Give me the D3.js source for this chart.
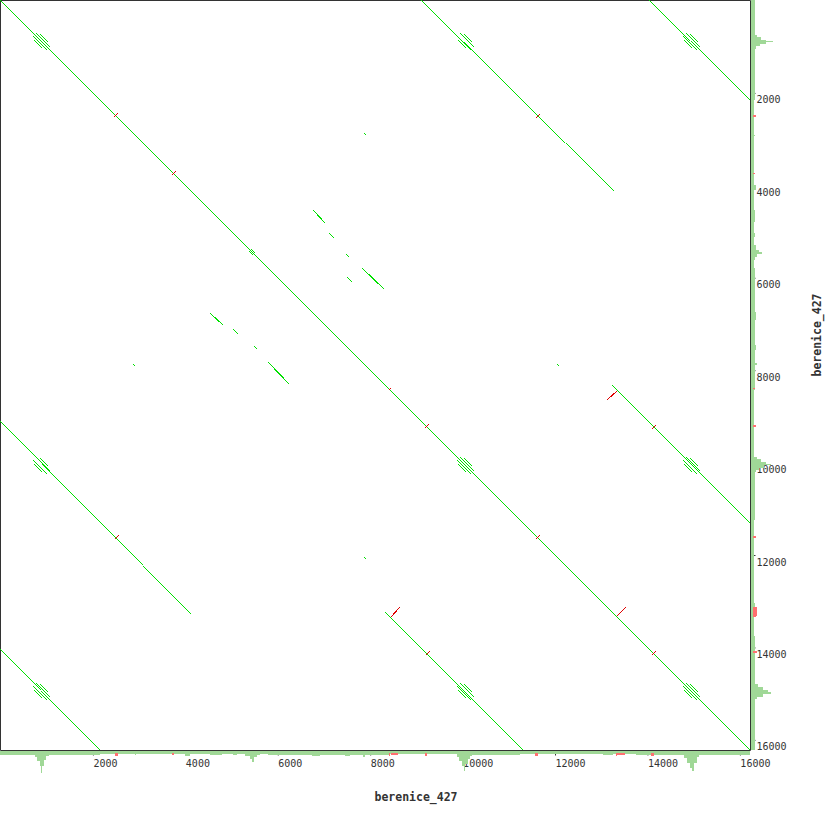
<!DOCTYPE html>
<html>
<head>
<meta charset="utf-8">
<script src="https://cdn.jsdelivr.net/npm/d3@7"></script>
<style>
  body { margin: 0; background: #fff; }
  .tick text { font-family: "DejaVu Sans Mono", monospace; font-size: 10px; fill: #333; }
  .axis path, .axis line { stroke: #333; }
  .title { font-family: "DejaVu Sans Mono", monospace; font-size: 11.5px; font-weight: bold; fill: #333; }
</style>
</head>
<body>
<svg width="830" height="830"></svg>
<script>
// sequence on both axes
const seqName = "berenice_427";
const seqLength = 16230;
const tickValues = [2000, 4000, 6000, 8000, 10000, 12000, 14000, 16000];

// forward matches [x1, y1, x2, y2]
const fwdSegments = [
  [0, 0, 16230, 16230],
  // duplicated block, broken at small indels
  [9110, 0, 10019, 909], [10041, 909, 12227, 3094], [12248, 3094, 13287, 4133],
  [0, 9110, 909, 10019], [909, 10041, 3094, 12227], [3094, 12248, 4133, 13287],
  [14044, 0, 14932, 887], [14953, 887, 16230, 2164],
  [0, 14044, 887, 14932], [887, 14953, 2164, 16230],
  [8330, 13250, 11310, 16230],
  [13250, 8330, 16230, 11310],
  // short matches in the middle
  [6780, 4544, 7033, 4819],
  [7126, 5049, 7228, 5144],
  [7487, 5497, 7552, 5555],
  [7834, 5806, 8310, 6247],
  [7516, 6001, 7611, 6096],
  [4544, 6780, 4819, 7033],
  [5049, 7126, 5144, 7228],
  [5497, 7487, 5555, 7552],
  [5806, 7834, 6247, 8310],
  [7877, 2878, 7920, 2921],
  [2878, 7877, 2921, 7920],
  [12053, 7877, 12097, 7920],
  [7877, 12053, 7920, 12097]
];

// reverse matches [x1, y1, x2, y2]
const revSegments = [
  [2446, 2532, 2532, 2446],
  [3701, 3787, 3787, 3701],
  [8396, 8440, 8440, 8396],
  [9176, 9262, 9262, 9176],
  [11578, 11664, 11664, 11578],
  [11578, 2553, 11664, 2467],
  [2467, 11664, 2553, 11578],
  [13330, 13330, 13525, 13135],
  [8440, 13352, 8634, 13135],
  [13352, 8440, 13135, 8634],
  [14088, 14174, 14174, 14088],
  [9197, 14174, 9283, 14088],
  [14088, 9283, 14174, 9197]
];

// tandem repeat blocks: centres and the parallel lines seen in each block [x shift, y shift, half length]
const repeatCenters = [887, 10063, 14953];
const repeatLines = [[43, -22, 151], [-22, 43, 151], [65, -65, 87], [-65, 65, 87]];
const smallRepeat = [5453];
const smallRepeatLines = [[22, -22, 45], [-22, 22, 45]];

// coverage histogram [start, end, depth]
const coverage = [
  [0, 757, 4], [757, 801, 6], [801, 855, 10], [855, 887, 15], [887, 909, 22],
  [909, 952, 15], [952, 995, 9], [995, 1060, 5], [1060, 2164, 4], [2164, 2921, 3],
  [2921, 2943, 4], [2943, 4003, 3], [4003, 4112, 4.5], [4112, 4544, 3], [4544, 4804, 4],
  [4804, 5042, 3], [5042, 5129, 4], [5129, 5302, 3], [5302, 5410, 5], [5410, 5453, 8],
  [5453, 5497, 11], [5497, 5562, 6], [5562, 5626, 4], [5626, 5800, 3], [5800, 6752, 4],
  [6752, 6925, 4.5], [6925, 7466, 4], [7466, 7574, 5], [7574, 7855, 4], [7855, 7899, 5.5],
  [7899, 8440, 4], [8440, 9889, 3], [9889, 9933, 6], [9933, 9998, 10], [9998, 10041, 15],
  [10041, 10063, 20], [10063, 10128, 13], [10128, 10171, 8], [10171, 10214, 5], [10214, 11253, 4],
  [11253, 13049, 2.5], [13049, 13265, 4], [13265, 13763, 3], [13763, 14802, 4], [14802, 14867, 7],
  [14867, 14932, 12], [14932, 14975, 17], [14975, 15018, 20], [15018, 15083, 12], [15083, 15126, 6],
  [15126, 16230, 4]
];

// reverse-match coverage [start, end, depth]
const redCoverageX = [
  [2478, 2543, 3], [3722, 3776, 2], [8418, 8440, 3], [8461, 8613, 2], [9197, 9251, 3],
  [11588, 11642, 3], [13330, 13352, 3], [13352, 13525, 2], [14088, 14142, 3]
];
const redCoverageY = [
  [2478, 2532, 3], [3733, 3776, 2], [8396, 8418, 2], [9197, 9240, 3], [11599, 11642, 3],
  [13135, 13330, 4], [13330, 13352, 3], [14088, 14131, 4]
];

const svg = d3.select("svg");
const size = 750;

const x = d3.scaleLinear().domain([0, seqLength]).range([0, size]);
const y = d3.scaleLinear().domain([0, seqLength]).range([0, size]);
const depth = d3.scaleLinear().domain([0, 22]).range([0, 22]);

const g = svg.append("g").attr("transform", "translate(0.5,0.5)");

// frame top / left
g.append("line").attr("x1", 0).attr("y1", 0).attr("x2", size).attr("y2", 0).attr("stroke", "#333");
g.append("line").attr("x1", 0).attr("y1", 0).attr("x2", 0).attr("y2", size).attr("stroke", "#333");

// dots: repeat blocks
const repeatSegs = [];
repeatCenters.forEach(cx => repeatCenters.forEach(cy => {
  repeatLines.forEach(([dx, dy, h]) => repeatSegs.push([cx - h + dx, cy - h + dy, cx + h + dx, cy + h + dy]));
}));
smallRepeat.forEach(c => smallRepeatLines.forEach(([dx, dy, h]) =>
  repeatSegs.push([c - h + dx, c - h + dy, c + h + dx, c + h + dy])));

// snap to whole pixels so 45 degree lines stay one pixel wide
const px = v => Math.round(x(v));
const py = v => Math.round(y(v));

function drawSegs(data, colour) {
  g.append("g").selectAll("line")
    .data(data)
    .enter().append("line")
      .attr("x1", d => px(d[0])).attr("y1", d => py(d[1]))
      .attr("x2", d => px(d[2])).attr("y2", d => py(d[3]))
      .attr("stroke", colour)
      .attr("stroke-width", 1)
      .attr("shape-rendering", "crispEdges");
}
drawSegs(fwdSegments.concat(repeatSegs), "#00e000");
drawSegs(revSegments, "#e00000");

// histograms
const hist = svg.append("g");
hist.selectAll(".covx")
  .data(coverage)
  .enter().append("rect")
    .attr("class", "covx")
    .attr("x", d => x(d[0]))
    .attr("y", size + 1)
    .attr("width", d => x(d[1]) - x(d[0]))
    .attr("height", d => depth(d[2]))
    .attr("fill", "#a0d897")
    .attr("shape-rendering", "crispEdges");

hist.selectAll(".covy")
  .data(coverage)
  .enter().append("rect")
    .attr("class", "covy")
    .attr("x", size + 1)
    .attr("y", d => y(d[0]))
    .attr("width", d => depth(d[2]))
    .attr("height", d => y(d[1]) - y(d[0]))
    .attr("fill", "#a0d897")
    .attr("shape-rendering", "crispEdges");

hist.selectAll(".redx")
  .data(redCoverageX)
  .enter().append("rect")
    .attr("class", "redx")
    .attr("x", d => x(d[0]))
    .attr("y", size + 3)
    .attr("width", d => Math.max(1, x(d[1]) - x(d[0])))
    .attr("height", d => depth(d[2]))
    .attr("fill", "#ff6f6f")
    .attr("shape-rendering", "crispEdges");

hist.selectAll(".redy")
  .data(redCoverageY)
  .enter().append("rect")
    .attr("class", "redy")
    .attr("x", size + 3)
    .attr("y", d => y(d[0]))
    .attr("width", d => depth(d[2]))
    .attr("height", d => Math.max(1, y(d[1]) - y(d[0])))
    .attr("fill", "#ff6f6f")
    .attr("shape-rendering", "crispEdges");

// axes
const xAxis = g.append("g")
  .attr("class", "axis")
  .attr("transform", `translate(0, ${size})`)
  .call(d3.axisBottom(x).tickValues(tickValues).tickSize(5).tickSizeOuter(0).tickFormat(d3.format("d")));
xAxis.selectAll("text")
  .attr("y", 16.5)
  .attr("dy", 0)
  .attr("x", 0)
  .style("text-anchor", "start");
xAxis.select(".domain").attr("d", `M0,0H${size}`);

const yAxis = g.append("g")
  .attr("class", "axis")
  .attr("transform", `translate(${size}, 0)`)
  .call(d3.axisRight(y).tickValues(tickValues).tickSize(5).tickSizeOuter(0).tickFormat(d3.format("d")));
yAxis.selectAll("text")
  .attr("x", 6)
  .attr("y", 10)
  .attr("dy", 0)
  .style("text-anchor", "start");
yAxis.select(".domain").attr("d", `M0,0V${size}`);

// titles
svg.append("text")
  .attr("class", "title")
  .attr("x", 416)
  .attr("y", 801)
  .attr("text-anchor", "middle")
  .text(seqName);

svg.append("text")
  .attr("class", "title")
  .attr("transform", "translate(821, 335) rotate(-90)")
  .attr("text-anchor", "middle")
  .text(seqName);
</script>
</body>
</html>
